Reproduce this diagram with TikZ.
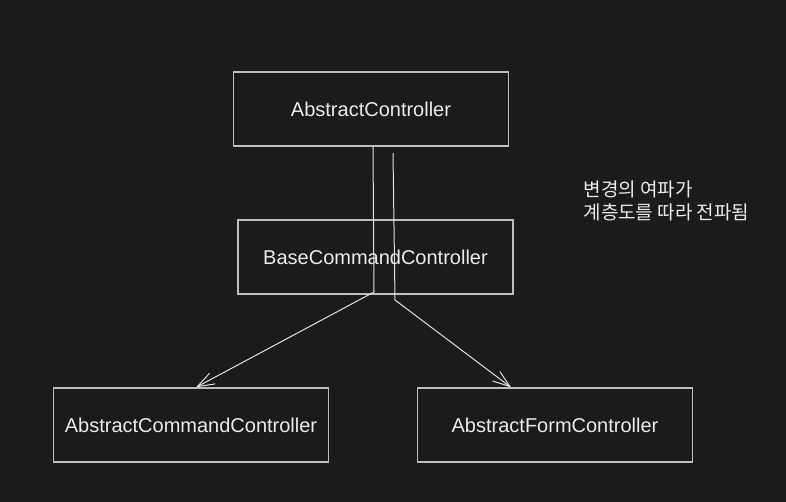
\documentclass[tikz,border=0pt]{standalone}
\usepackage{fontspec}
\setmainfont{Liberation Sans}
\newfontfamily\kofont{Noto Sans CJK KR}
\usetikzlibrary{arrows.meta}
\definecolor{canvas}{RGB}{27,27,27}
\definecolor{boxline}{RGB}{190,190,190}
\definecolor{wireline}{RGB}{225,225,225}
\definecolor{labeltext}{RGB}{235,235,235}
\tikzset{
  classbox/.style={draw=boxline, line width=1.3pt, minimum width=275pt, minimum height=74pt,
    inner sep=0pt, text=labeltext, font=\fontsize{20}{24}\selectfont},
  wire/.style={draw=wireline, line width=1pt, -{Straight Barb[length=17pt,width=12pt,line width=1pt]}},
}

\begin{document}
\begin{tikzpicture}[x=1pt, y=-1pt]
  \fill[canvas] (0, 0) rectangle (786, 502);
  \useasboundingbox (0, 0) rectangle (786, 502);
  \node[classbox] (abstract) at (371, 109) {AbstractController};
  \node[classbox] (base) at (375.5, 257) {BaseCommandController};
  \node[classbox] (command) at (191, 425) {AbstractCommandController};
  \node[classbox] (form) at (555, 425) {AbstractFormController};
  % two ripple paths through the middle box
  \coordinate (leftstart) at (373, 147);
  \coordinate (leftbend) at (374, 292);
  \coordinate (rightstart) at (393, 153);
  \coordinate (rightbend) at (395, 300);
  \draw[wire] (leftstart) -- (leftbend) -- (command.north -| 196, 0);
  \draw[wire] (rightstart) -- (rightbend) -- (form.north -| 511, 0);
  \node[anchor=north west, align=left, text=labeltext, font=\kofont\fontsize{19}{23.5}\selectfont]
    (ripple) at (580, 177) {변경의 여파가\\계층도를 따라 전파됨};
\end{tikzpicture}
\end{document}
